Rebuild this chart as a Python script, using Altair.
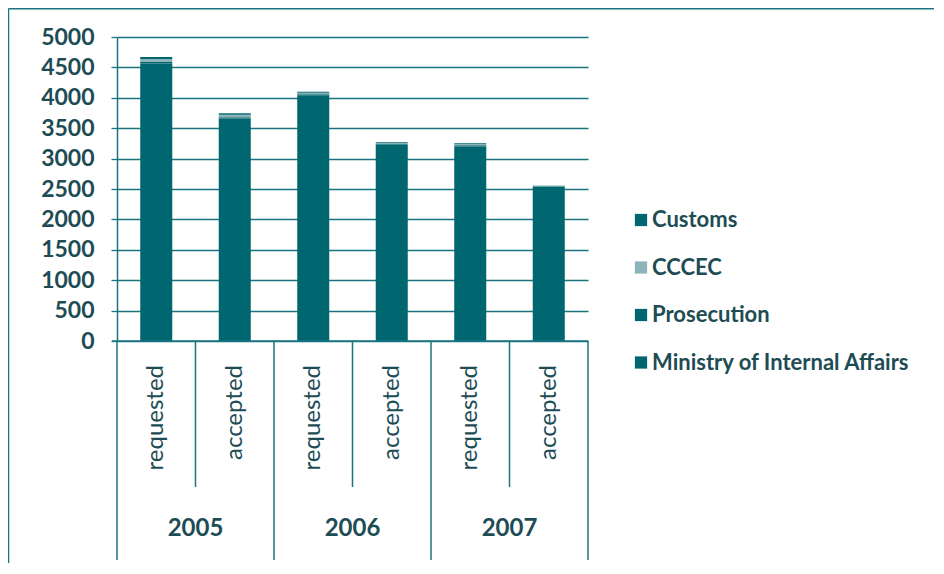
import altair as alt
import pandas as pd

# ---- data ----
years = ["2005", "2005", "2006", "2006", "2007", "2007"]
kinds = ["requested", "accepted", "requested", "accepted", "requested", "accepted"]
ministry = [4565, 3660, 4040, 3230, 3200, 2540]
prosecution = [25, 20, 20, 10, 20, 5]
cccec = [50, 40, 25, 15, 20, 5]
customs = [30, 25, 15, 13, 12, 4]
series = ["Customs", "CCCEC", "Prosecution", "Ministry of Internal Affairs"]
series_colors = ["#00666F", "#8DB4B9", "#00666F", "#00666F"]
y_ticks = list(range(0, 5001, 500))
group_years = ["2005", "2006", "2007"]

TEAL = "#00666F"
LINE = "#1B7580"
TEXT = "#1D4C55"
FONT = "Lato"

rows = []
for i, (yr, k) in enumerate(zip(years, kinds)):
    for s, vals, order in [("Ministry of Internal Affairs", ministry, 0),
                           ("Prosecution", prosecution, 1),
                           ("CCCEC", cccec, 2),
                           ("Customs", customs, 3)]:
        rows.append(dict(idx=i, xa=i + 0.296, xb=i + 0.704, year=yr, kind=k,
                         series=s, value=vals[i], order=order))
df = pd.DataFrame(rows)

cats = pd.DataFrame({"xc": [i + 0.5 for i in range(len(kinds))], "kind": kinds})
groups = pd.DataFrame({"xc": [2 * i + 1 for i in range(len(group_years))], "year": group_years})
outer_sep = pd.DataFrame({"xs": [0, 2, 4, 6]})
inner_sep = pd.DataFrame({"xs": [1, 3, 5]})

W, H = 471, 304
xscale = alt.Scale(domain=[0, 6], nice=False, zero=False)
yscale = alt.Scale(domain=[0, 5000], nice=False)

bars = alt.Chart(df).transform_stack(
    stack="value", groupby=["idx"], as_=["v0", "v1"],
    sort=[alt.SortField("order", order="ascending")]
).mark_bar(stroke=None).encode(
    x=alt.X("xa:Q", scale=xscale, axis=None),
    x2="xb:Q",
    y=alt.Y("v0:Q", scale=yscale, title=None,
            axis=alt.Axis(values=y_ticks, format="d", grid=True, gridColor=LINE,
                          gridOpacity=1, gridWidth=1.3, domainColor=LINE, domainWidth=1.5,
                          tickColor=LINE, tickSize=6, tickWidth=1.3,
                          labelPadding=17, labelFont=FONT, labelFontSize=23,
                          labelFontWeight="bold", labelColor=TEXT)),
    y2="v1:Q",
    color=alt.Color("series:N",
                    scale=alt.Scale(domain=series, range=series_colors),
                    legend=alt.Legend(title=None, orient="none", legendX=513, legendY=172,
                                      symbolType="square", symbolSize=150,
                                      symbolStrokeWidth=0, labelFont=FONT,
                                      labelFontSize=22, labelFontWeight="bold",
                                      labelColor=TEXT, rowPadding=25.5,
                                      labelOffset=0, labelLimit=400)),
)

baseline = alt.Chart(outer_sep).mark_rule(color=LINE, strokeWidth=1.5).encode(
    x=alt.value(-5), x2=alt.value(W), y=alt.value(H)
).transform_filter("datum.xs == 0")

outer_rules = alt.Chart(outer_sep).mark_rule(color=LINE, strokeWidth=1.5).encode(
    x=alt.X("xs:Q", scale=xscale), y=alt.value(H), y2=alt.value(H + 219)
)
inner_rules = alt.Chart(inner_sep).mark_rule(color=LINE, strokeWidth=1.5).encode(
    x=alt.X("xs:Q", scale=xscale), y=alt.value(H), y2=alt.value(H + 146)
)

cat_text = alt.Chart(cats).mark_text(
    angle=270, align="right", baseline="middle", font=FONT, fontSize=24,
    color=TEXT
).encode(x=alt.X("xc:Q", scale=xscale), y=alt.value(H + 24), text="kind:N")

year_text = alt.Chart(groups).mark_text(
    align="center", baseline="middle", font=FONT, fontSize=24, fontWeight="bold",
    color=TEXT
).encode(x=alt.X("xc:Q", scale=xscale), y=alt.value(H + 188), text="year:N")

frame_left = alt.Chart(outer_sep).mark_rule(color=LINE, strokeWidth=1.5).encode(
    x=alt.value(-108.5), y=alt.value(-28.5), y2=alt.value(H + 240)
).transform_filter("datum.xs == 0")
frame_top = alt.Chart(outer_sep).mark_rule(color=LINE, strokeWidth=2).encode(
    x=alt.value(-108.5), x2=alt.value(W + 346), y=alt.value(-28.5)
).transform_filter("datum.xs == 0")

chart = alt.layer(
    frame_left, frame_top, bars, baseline, outer_rules, inner_rules, cat_text, year_text
).properties(
    width=W, height=H,
    autosize=alt.AutoSizeParams(type="none"),
    padding={"left": 109, "top": 29, "right": 346, "bottom": 222},
    background="white",
).configure_view(stroke=None)

chart.save("out.html", embed_options={"renderer": "svg", "actions": False})
